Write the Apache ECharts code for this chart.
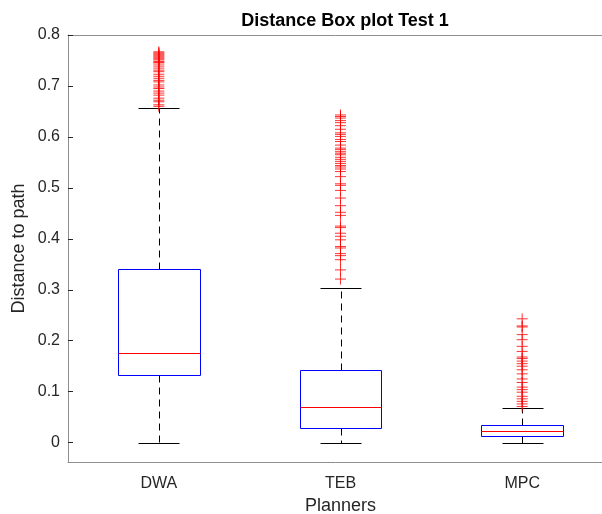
<!DOCTYPE html>
<html>
<head>
<meta charset="utf-8">
<script src="https://cdn.jsdelivr.net/npm/echarts@6/dist/echarts.min.js"></script>
<style>
    html, body { margin: 0; padding: 0; background: #fff; }
    #boxChart { width: 602px; height: 514px; }
</style>
</head>
<body>
<div id="boxChart"></div>
<script>
    var categories = ['DWA', 'TEB', 'MPC'];
    // min, q1, median, q3, upper whisker
    var dwaStats = [0, 0.133, 0.176, 0.341, 0.657];
    var tebStats = [0, 0.029, 0.070, 0.143, 0.303];
    var mpcStats = [0, 0.013, 0.0235, 0.034, 0.067];

    var dwaOutliers = [0.767, 0.765, 0.763, 0.761, 0.759, 0.757, 0.755, 0.753, 0.751, 0.748,
        0.746, 0.743, 0.739, 0.735, 0.731, 0.728, 0.723, 0.719, 0.715, 0.711, 0.708, 0.702,
        0.698, 0.695, 0.690, 0.686, 0.682, 0.676, 0.672, 0.669, 0.663, 0.660];
    var tebOutliers = [0.643, 0.640, 0.637, 0.632, 0.628, 0.622, 0.615, 0.608, 0.605, 0.601,
        0.595, 0.591, 0.584, 0.578, 0.575, 0.571, 0.568, 0.565, 0.560, 0.556, 0.552, 0.548,
        0.544, 0.541, 0.537, 0.532, 0.522, 0.508, 0.505, 0.495, 0.480, 0.465, 0.452, 0.446,
        0.425, 0.422, 0.411, 0.405, 0.398, 0.385, 0.382, 0.371, 0.367, 0.359, 0.339, 0.321];
    var mpcOutliers = [0.243, 0.229, 0.227, 0.212, 0.202, 0.189, 0.179, 0.168, 0.165, 0.160,
        0.155, 0.150, 0.143, 0.135, 0.125, 0.118, 0.109, 0.104, 0.099, 0.091, 0.086, 0.081,
        0.076, 0.071];

    var yTicks = [0, 0.1, 0.2, 0.3, 0.4, 0.5, 0.6, 0.7, 0.8];

    var boxData = [dwaStats, tebStats, mpcStats].map(function (s, i) {
        return [i].concat(s);
    });
    var outlierData = [];
    [dwaOutliers, tebOutliers, mpcOutliers].forEach(function (list, i) {
        list.forEach(function (v) { outlierData.push([i, v]); });
    });

    var font = 'Liberation Sans, Arial, Helvetica, sans-serif';
    var axisGray = '#8f8f8f';
    var textColor = '#262626';

    function px(v) { return Math.round(v) + 0.5; }

    function seg(x1, y1, x2, y2, color, dash) {
        return {
            type: 'line',
            shape: {x1: px(x1), y1: px(y1), x2: px(x2), y2: px(y2)},
            style: {stroke: color, lineWidth: 1, lineDash: dash || null, fill: 'none'}
        };
    }

    function boxCoords(api) {
        var x = api.value(0);
        return {
            lo: api.coord([x, api.value(1)]),
            q1: api.coord([x, api.value(2)]),
            med: api.coord([x, api.value(3)]),
            q3: api.coord([x, api.value(4)]),
            hi: api.coord([x, api.value(5)]),
            band: api.size([1, 0])[0]
        };
    }

    // one series per colour (whiskers black, box blue, median red)
    function renderWhiskers(params, api) {
        var c = boxCoords(api);
        var cx = c.lo[0], cw = c.band * 0.1125;
        return {
            type: 'group',
            children: [
                seg(cx, c.q3[1], cx, c.hi[1], '#000000', [7, 5]),
                seg(cx, c.q1[1], cx, c.lo[1], '#000000', [7, 5]),
                seg(cx - cw, c.hi[1], cx + cw, c.hi[1], '#000000'),
                seg(cx - cw, c.lo[1], cx + cw, c.lo[1], '#000000')
            ]
        };
    }

    function renderBoxes(params, api) {
        var c = boxCoords(api);
        var bw = c.band * 0.225;
        var l = px(c.lo[0] - bw), r = px(c.lo[0] + bw), t = px(c.q3[1]), b = px(c.q1[1]);
        return {
            type: 'polyline',
            shape: {points: [[l, t], [r, t], [r, b], [l, b], [l, t]]},
            style: {stroke: '#0000ff', lineWidth: 1, fill: 'none'}
        };
    }

    function renderMedians(params, api) {
        var c = boxCoords(api);
        var bw = c.band * 0.225;
        return seg(c.lo[0] - bw, c.med[1], c.lo[0] + bw, c.med[1], '#ff0000');
    }

    // each colour on its own canvas layer so stroke styles never leak between them
    function boxSeries(render, color, layer) {
        return {
            type: 'custom',
            renderItem: render,
            encode: {x: 0, y: [1, 2, 3, 4, 5]},
            data: boxData,
            itemStyle: {color: color, borderColor: color},
            clip: false,
            silent: true,
            zlevel: layer
        };
    }

    var chart = echarts.init(document.getElementById('boxChart'));
    var option = {
        animation: false,
        color: ['#000000', '#0000ff', '#ff0000', '#ff0000'],
        title: {
            text: 'Distance Box plot Test 1',
            left: 340,
            textAlign: 'center',
            top: 7,
            textStyle: {color: '#000', fontFamily: font, fontSize: 18, fontWeight: 'bold'}
        },
        grid: {left: 68, top: 35, width: 545, height: 427, containLabel: false, outerBoundsMode: 'none'},
        xAxis: [
            {
                type: 'category',
                data: categories,
                name: 'Planners',
                nameLocation: 'middle',
                nameGap: 34,
                nameTextStyle: {color: textColor, fontFamily: font, fontSize: 18},
                axisLine: {onZero: false, lineStyle: {color: axisGray, width: 1}},
                axisTick: {inside: true, alignWithLabel: true, length: 5, lineStyle: {color: textColor}},
                axisLabel: {color: textColor, fontFamily: font, fontSize: 16, margin: 14},
                splitLine: {show: false}
            },
            {
                type: 'category',
                data: categories,
                position: 'top',
                axisLine: {onZero: false, lineStyle: {color: axisGray, width: 1}},
                axisTick: {inside: true, alignWithLabel: true, length: 5, lineStyle: {color: textColor}},
                axisLabel: {show: false}
            }
        ],
        yAxis: {
            type: 'value',
            min: -0.038,
            max: 0.8,
            name: 'Distance to path',
            nameLocation: 'middle',
            nameGap: 40,
            nameMoveOverlap: false,
            nameTextStyle: {color: textColor, fontFamily: font, fontSize: 18},
            axisLine: {show: true, onZero: false, lineStyle: {color: axisGray, width: 1}},
            axisTick: {show: true, inside: true, length: 5, customValues: yTicks, lineStyle: {color: textColor}},
            axisLabel: {
                color: textColor, fontFamily: font, fontSize: 16, margin: 8,
                customValues: yTicks,
                formatter: function (v) { return String(Math.round(v * 10) / 10); }
            },
            splitLine: {show: false}
        },
        series: [
            boxSeries(renderWhiskers, '#000000', 0),
            boxSeries(renderBoxes, '#0000ff', 1),
            boxSeries(renderMedians, '#ff0000', 2),
            {
                type: 'scatter',
                data: outlierData,
                symbol: 'path://M0,5L10,5M5,0L5,10',
                symbolSize: 11,
                itemStyle: {color: 'none', borderColor: '#ff0000', borderWidth: 1},
                clip: false,
                silent: true,
                zlevel: 3
            }
        ]
    };
    chart.setOption(option);
</script>
</body>
</html>
